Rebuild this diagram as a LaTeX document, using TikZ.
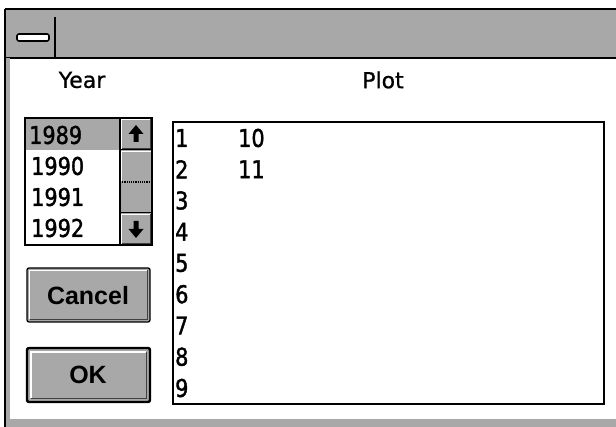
\documentclass[tikz,border=0pt]{standalone}
\usepackage{fontspec}
\setmainfont{Liberation Sans}
\newfontfamily\digitfont[FakeStretch=0.85,FakeBold=1.5]{DejaVu Sans}
\newfontfamily\labelfont[FakeBold=0.8]{DejaVu Sans}
\begin{document}
\begin{tikzpicture}[x=1pt,y=-1pt,
  dith/.style={fill=black!34},
  frame/.style={draw=black,line width=1.3pt},
  digit/.style={font=\digitfont\fontsize{24.5}{24.5}\selectfont, anchor=west, inner sep=0pt},
  lbl/.style={font=\labelfont\fontsize{22}{22}\selectfont, inner sep=0pt},
  btntext/.style={font=\bfseries\fontsize{25}{25}\selectfont, inner sep=0pt},
  hilite/.style={draw=white,line width=1.2pt},
  shade/.style={draw=black!75,line width=1.2pt}]
\useasboundingbox (0,0) rectangle (616,427);
\fill[white] (0,0) rectangle (616,427);
% title bar
\fill[dith] (5,9) rectangle (616,58);
\draw[line width=1.5pt] (616,9) -- (5,9);
\draw[line width=1.5pt] (5,58) -- (616,58);
\draw[line width=1.2pt] (55,17) -- (55,58);
\draw[line width=1.6pt, fill=white, rounded corners=2pt] (17,34) rectangle (49,41);
% left and bottom border strips
\fill[dith] (5,58) rectangle (9.5,427);
\fill[dith] (9.5,419) rectangle (616,427);
\draw[line width=1.5pt] (5,9) -- (5,427);
% labels
\node[lbl] (year) at (82,80) {Year};
\node[lbl] (plot) at (383,80) {Plot};
% year list box
\fill[dith] (25,118) rectangle (120,150);
\fill[dith] (120,118) rectangle (152,245);
\draw[hilite] (121.5,149) -- (121.5,119.5) -- (150.5,119.5);
\draw[shade] (121.5,148.5) -- (150.5,148.5) -- (150.5,119.5);
\draw[hilite] (121.5,181) -- (121.5,151.5) -- (150.5,151.5);
\draw[hilite] (121.5,244) -- (121.5,214.5) -- (150.5,214.5);
\draw[shade] (121.5,243.5) -- (150.5,243.5) -- (150.5,214.5);
\draw[line width=1pt] (120,150) -- (152,150);
\draw[line width=1.2pt, densely dotted] (120,182) -- (152,182);
\draw[line width=1pt] (120,213) -- (152,213);
\fill[black] (136,125) -- (128.5,134) -- (133.5,134) -- (133.5,142) -- (138.5,142) -- (138.5,134) -- (143.5,134) -- cycle;
\fill[black] (136,238) -- (128.5,229) -- (133.5,229) -- (133.5,221) -- (138.5,221) -- (138.5,229) -- (143.5,229) -- cycle;
\draw[frame] (25,118) rectangle (152,245);
\draw[frame] (120,118) -- (120,245);
\node[digit] (y89) at (29,135) {1989};
\node[digit] (y90) at (31,166) {1990};
\node[digit] (y91) at (31,197) {1991};
\node[digit] (y92) at (31,228) {1992};
% Cancel button
\fill[dith, rounded corners=2pt] (27,268) rectangle (150,322);
\draw[hilite] (29.5,319) -- (29.5,270.5) -- (147.5,270.5);
\draw[shade] (29.5,319.5) -- (147.5,319.5) -- (147.5,270.5);
\draw[line width=1.3pt, rounded corners=2pt] (27,268) rectangle (150,322);
\node[btntext] (cancel) at (88,296) {Cancel};
% OK button
\fill[dith, rounded corners=2pt] (27,348) rectangle (150,402);
\draw[hilite] (31,398) -- (31,352) -- (146,352);
\draw[shade] (31,398.5) -- (146.5,398.5) -- (146.5,352);
\draw[line width=2.4pt, rounded corners=2pt] (27,348) rectangle (150,402);
\node[btntext] (ok) at (88,375) {OK};
% plot list
\draw[frame] (173,122) rectangle (604,404);
\foreach \k in {1,...,9} {
  \node[digit] (n\k) at (175,{138+31.25*(\k-1)}) {\k};
}
\node[digit] (v1) at (238,138) {10};
\node[digit] (v2) at (238,169.25) {11};
\end{tikzpicture}
\end{document}
